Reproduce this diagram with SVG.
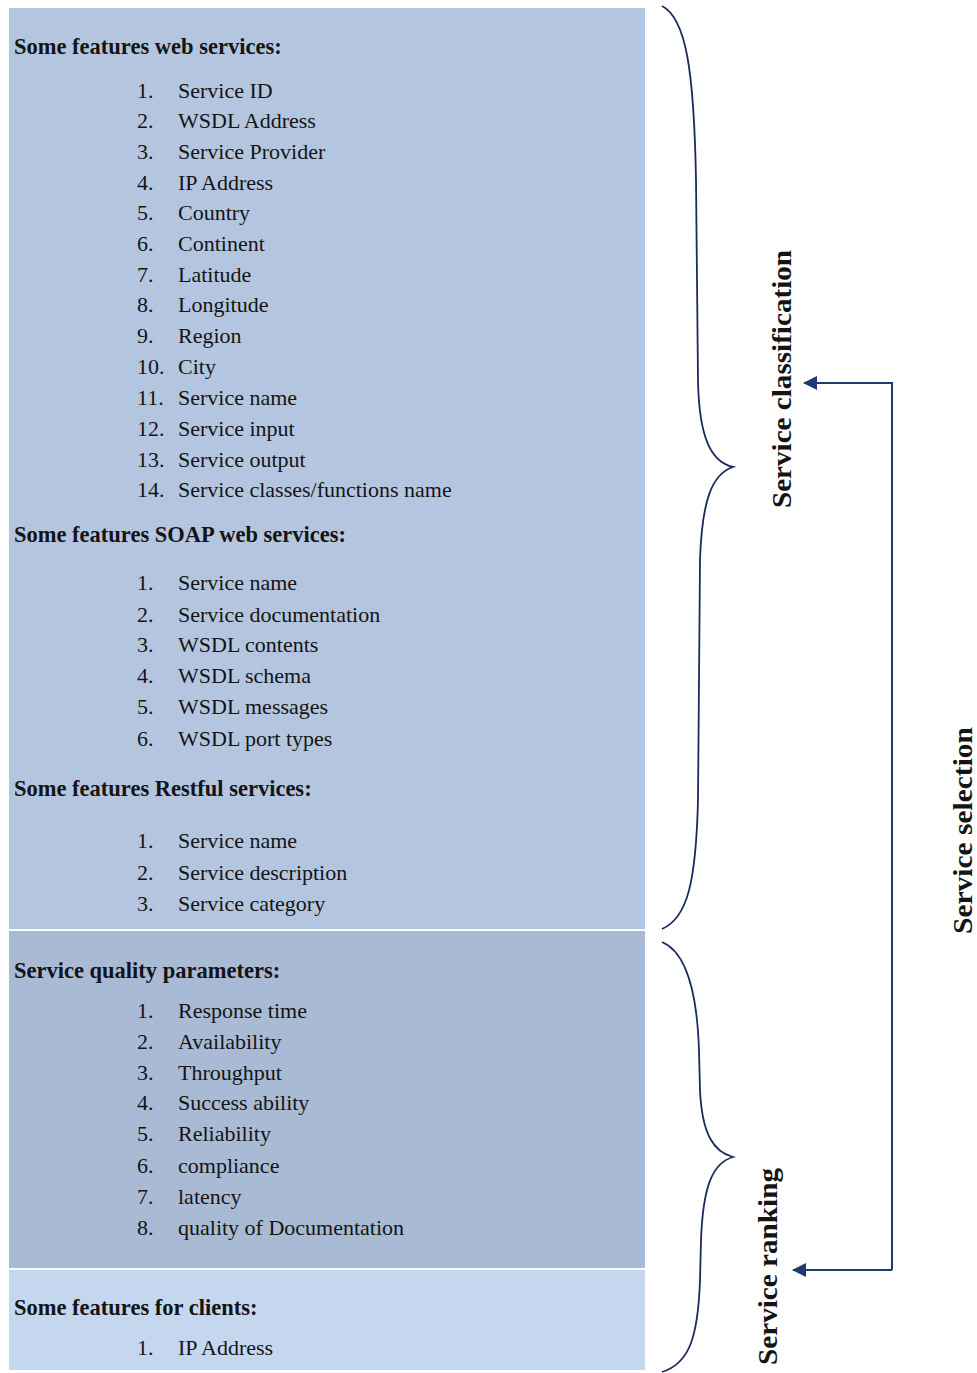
<svg xmlns="http://www.w3.org/2000/svg" width="977" height="1373" viewBox="0 0 977 1373">
  <defs>
    <style>
      .hd { font-family: "Liberation Serif", "DejaVu Serif", serif; font-weight: bold; font-size: 22.5px; fill: #141414; }
      .it { font-family: "Liberation Serif", "DejaVu Serif", serif; font-size: 22px; fill: #141414; }
      .rot { font-family: "Liberation Serif", "DejaVu Serif", serif; font-weight: bold; font-size: 27px; fill: #141414; }
      .brace { fill: none; stroke: #1b2b5c; stroke-width: 1.8; }
      .conn { fill: none; stroke: #1f3a72; stroke-width: 2; }
    </style>
    <marker id="arrow" viewBox="0 0 14 14" refX="13" refY="7" markerWidth="14" markerHeight="14" markerUnits="userSpaceOnUse" orient="auto">
      <path d="M0,0 L14,7 L0,14 Z" fill="#1f3a72"/>
    </marker>
  </defs>

  <rect width="977" height="1373" fill="#ffffff"/>

  <!-- Feature panel: web services, SOAP, RESTful -->
  <g id="features">
    <rect x="9" y="8" width="636" height="921" fill="#b4c6df"/>
    <text class="hd" x="14" y="54">Some features web services:</text>
    <g class="it">
      <text x="137" y="98">1.</text><text x="178" y="98">Service ID</text>
      <text x="137" y="128">2.</text><text x="178" y="128">WSDL Address</text>
      <text x="137" y="159">3.</text><text x="178" y="159">Service Provider</text>
      <text x="137" y="190">4.</text><text x="178" y="190">IP Address</text>
      <text x="137" y="220">5.</text><text x="178" y="220">Country</text>
      <text x="137" y="251">6.</text><text x="178" y="251">Continent</text>
      <text x="137" y="282">7.</text><text x="178" y="282">Latitude</text>
      <text x="137" y="312">8.</text><text x="178" y="312">Longitude</text>
      <text x="137" y="343">9.</text><text x="178" y="343">Region</text>
      <text x="137" y="374">10.</text><text x="178" y="374">City</text>
      <text x="137" y="405">11.</text><text x="178" y="405">Service name</text>
      <text x="137" y="436">12.</text><text x="178" y="436">Service input</text>
      <text x="137" y="467">13.</text><text x="178" y="467">Service output</text>
      <text x="137" y="497">14.</text><text x="178" y="497">Service classes/functions name</text>
    </g>
    <text class="hd" x="14" y="542">Some features SOAP web services:</text>
    <g class="it">
      <text x="137" y="590">1.</text><text x="178" y="590">Service name</text>
      <text x="137" y="622">2.</text><text x="178" y="622">Service documentation</text>
      <text x="137" y="652">3.</text><text x="178" y="652">WSDL contents</text>
      <text x="137" y="683">4.</text><text x="178" y="683">WSDL schema</text>
      <text x="137" y="714">5.</text><text x="178" y="714">WSDL messages</text>
      <text x="137" y="746">6.</text><text x="178" y="746">WSDL port types</text>
    </g>
    <text class="hd" x="14" y="796">Some features Restful services:</text>
    <g class="it">
      <text x="137" y="848">1.</text><text x="178" y="848">Service name</text>
      <text x="137" y="880">2.</text><text x="178" y="880">Service description</text>
      <text x="137" y="911">3.</text><text x="178" y="911">Service category</text>
    </g>
  </g>

  <!-- Quality parameter panel -->
  <g id="quality">
    <rect x="9" y="931" width="636" height="337" fill="#a9bad4"/>
    <text class="hd" x="14" y="978">Service quality parameters:</text>
    <g class="it">
      <text x="137" y="1018">1.</text><text x="178" y="1018">Response time</text>
      <text x="137" y="1049">2.</text><text x="178" y="1049">Availability</text>
      <text x="137" y="1080">3.</text><text x="178" y="1080">Throughput</text>
      <text x="137" y="1110">4.</text><text x="178" y="1110">Success ability</text>
      <text x="137" y="1141">5.</text><text x="178" y="1141">Reliability</text>
      <text x="137" y="1173">6.</text><text x="178" y="1173">compliance</text>
      <text x="137" y="1204">7.</text><text x="178" y="1204">latency</text>
      <text x="137" y="1235">8.</text><text x="178" y="1235">quality of Documentation</text>
    </g>
  </g>

  <!-- Client panel -->
  <g id="clients">
    <rect x="9" y="1270" width="636" height="100" fill="#c5d7ee"/>
    <text class="hd" x="14" y="1315">Some features for clients:</text>
    <g class="it">
      <text x="137" y="1355">1.</text><text x="178" y="1355">IP Address</text>
    </g>
  </g>

  <!-- Braces -->
  <g id="brace-classification">
    <path class="brace" d="M662,6 C686,18 694,70 696,180 L698,380 C699,440 712,462 733,467 C712,474 702,500 700,560 L698,800 C696,880 688,918 662,929"/>
  </g>
  <g id="brace-ranking">
    <path class="brace" d="M662,942 C686,952 697,990 699,1050 L700,1090 C702,1135 714,1152 733,1157 C713,1163 703,1185 701,1240 L700,1280 C698,1340 688,1364 662,1372"/>
  </g>

  <!-- Stage labels -->
  <g id="label-classification">
    <text class="rot" transform="translate(791,508) rotate(-90)" textLength="258" lengthAdjust="spacingAndGlyphs">Service classification</text>
  </g>
  <g id="label-ranking">
    <text class="rot" transform="translate(777,1365) rotate(-90)" textLength="197" lengthAdjust="spacingAndGlyphs">Service ranking</text>
  </g>
  <g id="label-selection">
    <text class="rot" transform="translate(972,934) rotate(-90)" textLength="207" lengthAdjust="spacingAndGlyphs">Service selection</text>
  </g>

  <!-- Connectors -->
  <g id="connectors">
    <path class="conn" d="M892,1270 L892,383 L804,383" marker-end="url(#arrow)"/>
    <path class="conn" d="M892,1270 L793,1270" marker-end="url(#arrow)"/>
  </g>
</svg>
